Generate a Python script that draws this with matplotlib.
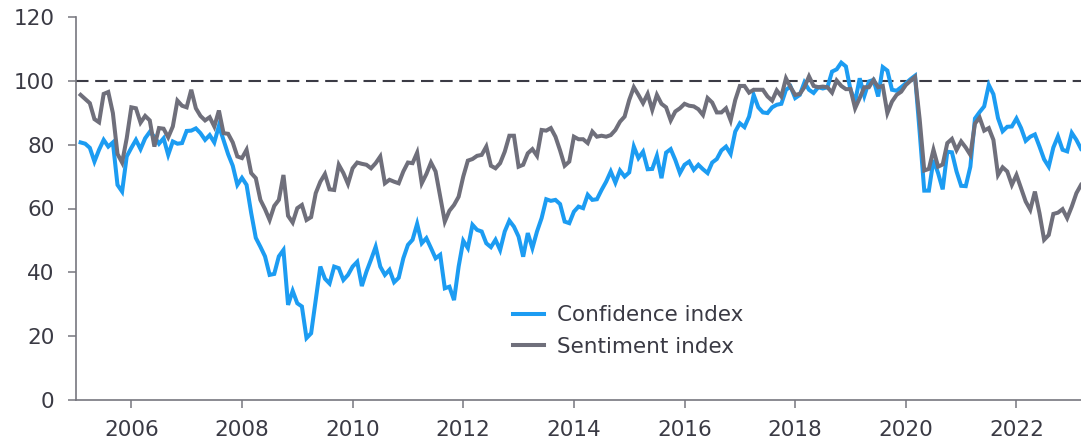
import numpy as np
import matplotlib.pyplot as plt

# monthly readings, Jan 2005 .. Feb 2023
start_year = 2005

confidence = [
    80.7, 80.3, 79.0, 74.7, 78.4, 81.5, 79.4, 80.7, 67.4, 65.3, 76.3, 79.0,
    81.5, 78.6, 82.0, 84.0, 82.5, 80.3, 82.0, 76.8, 81.0, 80.3, 80.5, 84.3,
    84.4, 85.1, 83.6, 81.5, 83.0, 80.7, 85.9, 81.5, 77.0, 73.4, 67.4, 69.6,
    67.4, 58.6, 50.8, 48.0, 45.0, 39.2, 39.5, 45.0, 47.0, 29.8, 34.2, 30.3,
    29.3, 19.4, 20.9, 31.3, 41.8, 38.0, 36.5, 41.8, 41.3, 37.6, 39.2, 41.8,
    43.3, 35.7, 40.2, 44.0, 48.0, 41.8, 39.2, 40.8, 36.9, 38.3, 44.4, 48.6,
    50.2, 55.2, 49.1, 50.7, 47.6, 44.4, 45.5, 35.0, 35.5, 31.3, 41.8, 49.9,
    47.6, 54.9, 53.3, 52.8, 49.1, 47.9, 50.2, 47.0, 52.8, 56.2, 54.3, 51.2,
    44.9, 52.3, 47.6, 52.8, 57.0, 62.9, 62.4, 62.7, 61.4, 55.9, 55.4, 59.0,
    60.6, 60.1, 64.3, 62.7, 62.9, 65.8, 68.4, 71.6, 68.1, 71.9, 70.0, 71.3,
    79.4, 75.8, 77.8, 72.3, 72.4, 76.5, 69.5, 77.5, 78.6, 75.2, 71.1, 73.7,
    74.7, 72.1, 73.7, 72.3, 71.1, 74.4, 75.5, 78.2, 79.4, 77.1, 84.1, 86.7,
    85.5, 88.8, 95.6, 91.7, 90.1, 89.9, 91.7, 92.5, 92.8, 97.2, 98.2, 94.6,
    95.6, 99.5, 97.2, 96.2, 98.0, 97.6, 98.0, 102.9, 103.6, 105.7, 104.5, 97.2,
    93.5, 100.8, 95.3, 99.8, 100.3, 95.1, 104.3, 103.2, 97.2, 96.9, 98.0, 99.2,
    100.5, 101.6, 84.0, 65.6, 65.6, 75.2, 71.1, 66.0, 77.8, 77.6, 71.6, 67.1,
    67.0, 73.1, 88.2, 90.2, 92.0, 98.7, 95.8, 88.3, 84.2, 85.6, 85.7, 88.2,
    85.2, 81.2, 82.5, 83.2, 79.4, 75.4, 73.1, 79.1, 82.6, 78.4, 77.9, 83.7,
    81.5, 78.7,
]

sentiment = [
    95.6, 94.3, 93.0, 88.0, 87.0, 95.9, 96.5, 89.9, 77.1, 74.4, 82.0, 91.7,
    91.4, 86.9, 89.0, 87.6, 79.4, 85.2, 85.0, 82.3, 85.7, 93.8, 92.2, 91.7,
    97.2, 91.4, 89.0, 87.6, 88.6, 85.7, 90.7, 83.6, 83.4, 80.7, 76.3, 75.8,
    78.4, 71.1, 69.5, 62.7, 59.8, 56.4, 60.8, 62.7, 70.5, 57.7, 55.6, 60.1,
    61.1, 56.4, 57.3, 64.8, 68.4, 70.8, 66.0, 65.8, 73.7, 71.1, 67.7, 72.6,
    74.4, 74.0, 73.7, 72.6, 74.2, 76.3, 67.9, 69.0, 68.4, 67.9, 71.6, 74.4,
    74.2, 77.5, 67.9, 70.8, 74.4, 71.6, 63.7, 55.9, 59.3, 61.1, 63.7, 70.0,
    75.0, 75.5, 76.5, 76.8, 79.4, 73.4, 72.6, 74.2, 77.8, 82.8, 82.8, 73.1,
    73.7, 77.3, 78.6, 76.5, 84.6, 84.4, 85.2, 82.5, 78.2, 73.4, 74.7, 82.5,
    81.7, 81.7, 80.5, 84.1, 82.5, 82.8, 82.5, 83.0, 84.6, 87.2, 88.8, 94.0,
    98.0, 95.6, 93.0, 95.9, 90.9, 95.6, 92.8, 91.7, 87.6, 90.4, 91.4, 92.8,
    92.2, 92.0, 91.1, 89.3, 94.6, 93.2, 90.1, 90.1, 91.4, 87.6, 94.0, 98.4,
    98.4, 96.3, 97.2, 97.2, 97.2, 95.1, 93.8, 97.0, 95.1, 100.8, 98.0, 95.6,
    95.9, 98.0, 101.4, 98.4, 98.0, 98.2, 98.0, 96.3, 100.1, 98.4, 97.4, 97.4,
    91.4, 94.6, 98.0, 98.0, 100.3, 98.0, 98.4, 89.9, 93.5, 95.6, 96.6, 98.7,
    100.0, 101.2, 88.0, 71.9, 72.4, 78.4, 73.1, 73.8, 80.5, 81.8, 78.3, 81.0,
    79.1, 76.8, 86.6, 88.5, 84.4, 85.2, 81.5, 70.5, 72.9, 71.6, 67.4, 70.5,
    66.3, 62.2, 59.6, 65.3, 58.5, 50.2, 51.7, 58.3, 58.7, 59.8, 57.0, 60.6,
    64.8, 67.4,
]

y_ticks = [0, 20, 40, 60, 80, 100, 120]
x_ticks = [2006, 2008, 2010, 2012, 2014, 2016, 2018, 2020, 2022]

months = np.arange(len(confidence))
x = start_year + (months + 1) / 12.0

blue = '#1c9cf2'
grey = '#6f6f7b'
text_col = '#3a3a44'
axis_col = '#77777f'

plt.rcParams['font.family'] = ['DejaVu Sans']

fig = plt.figure(figsize=(10.81, 4.45), dpi=100)
ax = fig.add_axes([76 / 1081, 45 / 445, 1 - 76 / 1081, 383 / 445])

ax.axhline(100, color='#3b3b45', lw=1.5, ls=(0, (6, 3.2)), zorder=1)
ax.plot(x, confidence, color=blue, lw=2.9, label='Confidence index',
        solid_joinstyle='miter', zorder=2)
ax.plot(x, sentiment, color=grey, lw=2.9, label='Sentiment index',
        solid_joinstyle='miter', zorder=3)

ax.set_xlim(start_year, start_year + len(confidence) / 12.0)
ax.set_ylim(0, 120)
ax.set_yticks(y_ticks)
ax.set_xticks(x_ticks)
ax.set_xticklabels([str(t) for t in x_ticks])

for side in ['top', 'right']:
    ax.spines[side].set_visible(False)
for side in ['left', 'bottom']:
    ax.spines[side].set_color(axis_col)
    ax.spines[side].set_linewidth(1.2)

ax.tick_params(axis='both', direction='out', length=5.5, width=1.1,
               color=axis_col, labelcolor=text_col, labelsize=15.5)
ax.tick_params(axis='y', pad=10)
ax.tick_params(axis='x', pad=9)

leg = ax.legend(loc='center left', bbox_to_anchor=(0.435, 0.18), frameon=False,
                fontsize=15.5, handlelength=1.45, handletextpad=0.6,
                labelspacing=0.55, borderpad=0, borderaxespad=0)
for t in leg.get_texts():
    t.set_color(text_col)

fig.savefig('out.png', dpi=100)
